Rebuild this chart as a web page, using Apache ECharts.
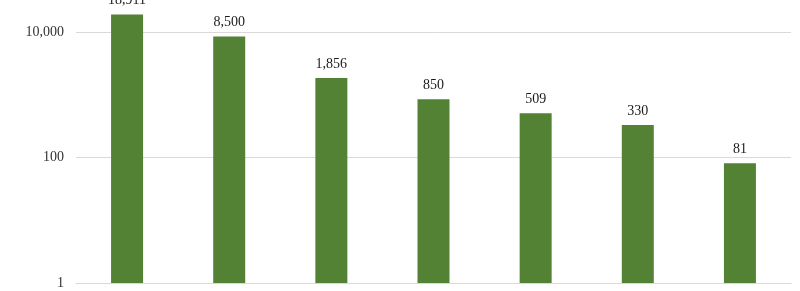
<!DOCTYPE html>
<html>
<head>
<meta charset="utf-8">
<script src="https://cdn.jsdelivr.net/npm/echarts@6/dist/echarts.min.js"></script>
<style>
  html, body { margin: 0; padding: 0; background: #fff; }
  #chart { width: 800px; height: 291px; }
</style>
</head>
<body>
<div id="chart"></div>
<script>
// x labels are cut off in the source picture
var categories = ['A', 'B', 'C', 'D', 'E', 'F', 'G'];
var values = [18911, 8500, 1856, 850, 509, 330, 81];
var gridValues = [100, 10000];

var myChart = echarts.init(document.getElementById('chart'));

function fmt(v) {
  return Math.round(v).toLocaleString('en-US');
}

myChart.setOption({
  animation: false,
  backgroundColor: '#fff',
  grid: { left: 76, right: 9, top: 0.6, bottom: 8, containLabel: false },
  xAxis: {
    type: 'category',
    data: categories,
    axisLine: { lineStyle: { color: '#d9d9d9' } },
    axisTick: { show: false },
    axisLabel: { show: false }
  },
  yAxis: {
    type: 'log',
    logBase: 100,
    min: 1,
    max: 31622.78,
    splitNumber: 2,
    interval: 1,
    axisLine: { show: false },
    axisTick: { show: false },
    splitLine: { show: false },
    axisLabel: {
      margin: 12,
      color: '#333',
      fontFamily: 'Liberation Serif',
      fontSize: 14,
      formatter: function (v) { return v > 20000 ? '' : fmt(v); }
    }
  },
  series: [{
    type: 'bar',
    data: values,
    barWidth: 32,
    itemStyle: { color: '#548235' },
    label: {
      show: true,
      position: 'top',
      distance: 7,
      color: '#1a1a1a',
      fontFamily: 'Liberation Serif',
      fontSize: 14,
      formatter: function (p) { return fmt(p.value); }
    },
    markLine: {
      silent: true,
      symbol: 'none',
      label: { show: false },
      lineStyle: { color: '#d9d9d9', type: 'solid', width: 1 },
      z: 0,
      data: gridValues.map(function (v) { return { yAxis: v }; })
    }
  }]
});
</script>
</body>
</html>
